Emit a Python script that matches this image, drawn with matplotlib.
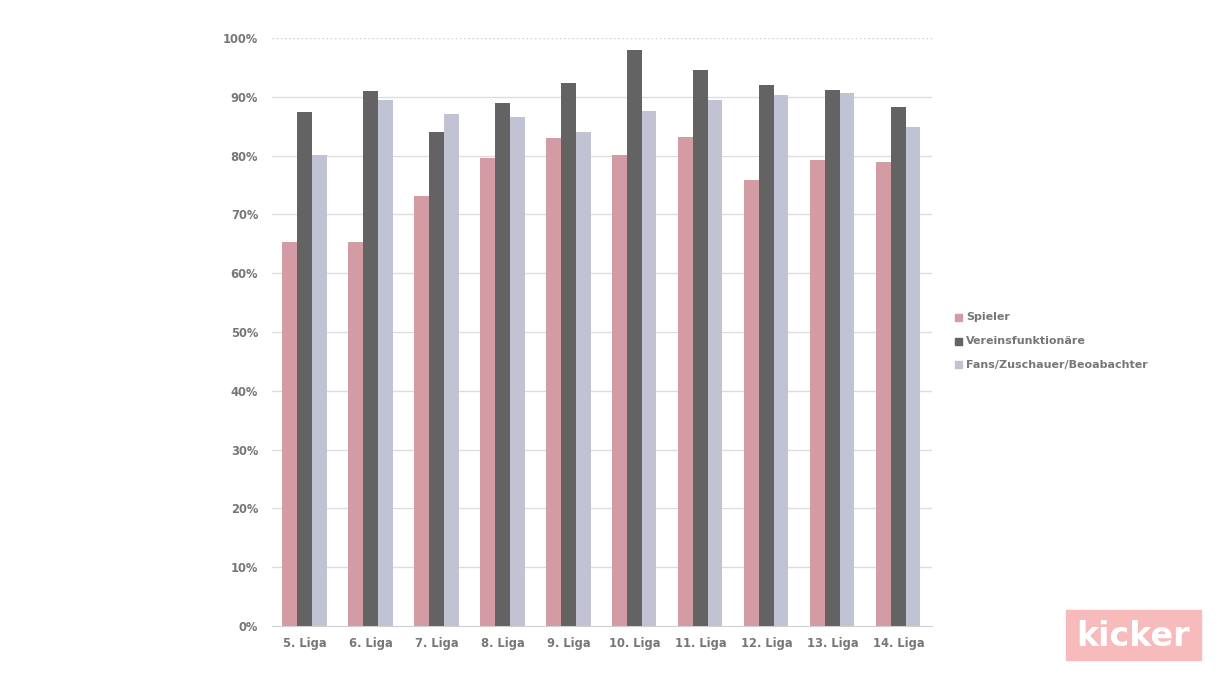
import numpy as np
import matplotlib.pyplot as plt
from matplotlib.patches import Rectangle

leagues = ['5. Liga', '6. Liga', '7. Liga', '8. Liga', '9. Liga',
           '10. Liga', '11. Liga', '12. Liga', '13. Liga', '14. Liga']
spieler = [65.3, 65.3, 73.1, 79.6, 83.0, 80.1, 83.2, 75.9, 79.3, 78.9]
verein = [87.4, 91.0, 84.0, 88.9, 92.3, 98.0, 94.6, 92.0, 91.2, 88.3]
fans = [80.1, 89.5, 87.1, 86.6, 84.0, 87.6, 89.5, 90.3, 90.6, 84.9]
series_names = ['Spieler', 'Vereinsfunktionäre', 'Fans/Zuschauer/Beoabachter']
colors = ['#D39BA3', '#636363', '#C1C3D4']

fig = plt.figure(figsize=(12.32, 6.93), dpi=100)
ax = fig.add_axes([0.2208, 0.0967, 0.5357, 0.8485])

x = np.arange(len(leagues))
w = 0.227
for i, (vals, c) in enumerate(zip([spieler, verein, fans], colors)):
    ax.bar(x + (i - 1) * w - 0.015, vals, width=w, color=c, zorder=3)

ax.set_xlim(-0.5, len(leagues) - 0.5)
ax.set_ylim(0, 100)
ax.set_yticks(np.arange(0, 101, 10))
ax.set_yticklabels([f'{v}%' for v in range(0, 101, 10)])
ax.set_xticks(x)
ax.set_xticklabels(leagues)

for v in range(10, 100, 10):
    ax.axhline(v, color='#DDDDDD', lw=1, zorder=1)
ax.axhline(100, color='#CCCCCC', lw=1, ls=(0, (1, 2)), zorder=1)

for s in ['top', 'right', 'left']:
    ax.spines[s].set_visible(False)
ax.spines['bottom'].set_color('#D0D0D0')
ax.tick_params(axis='both', length=0, colors='#777777', labelsize=8.3)
ax.tick_params(axis='y', pad=10)
ax.tick_params(axis='x', pad=8)
for lbl in ax.get_xticklabels() + ax.get_yticklabels():
    lbl.set_fontweight('bold')

# legend
for i, (name, c) in enumerate(zip(series_names, colors)):
    yy = 1 - (317 + 24 * i) / 693
    fig.patches.append(Rectangle((955 / 1232, yy - 3.5 / 693), 7 / 1232, 7 / 693,
                                 transform=fig.transFigure, color=c))
    fig.text(966 / 1232, yy, name, fontsize=8, fontweight='bold',
             color='#777777', va='center', ha='left')

# kicker logo
fig.patches.append(Rectangle((1066 / 1232, 1 - 660 / 693), 135 / 1232, 50 / 693,
                             transform=fig.transFigure, color='#F7BBBB'))
fig.text(1133 / 1232, 1 - 636 / 693, 'kicker', fontsize=24, fontweight='heavy',
         color='white', ha='center', va='center')

fig.savefig('out.png', dpi=100)
